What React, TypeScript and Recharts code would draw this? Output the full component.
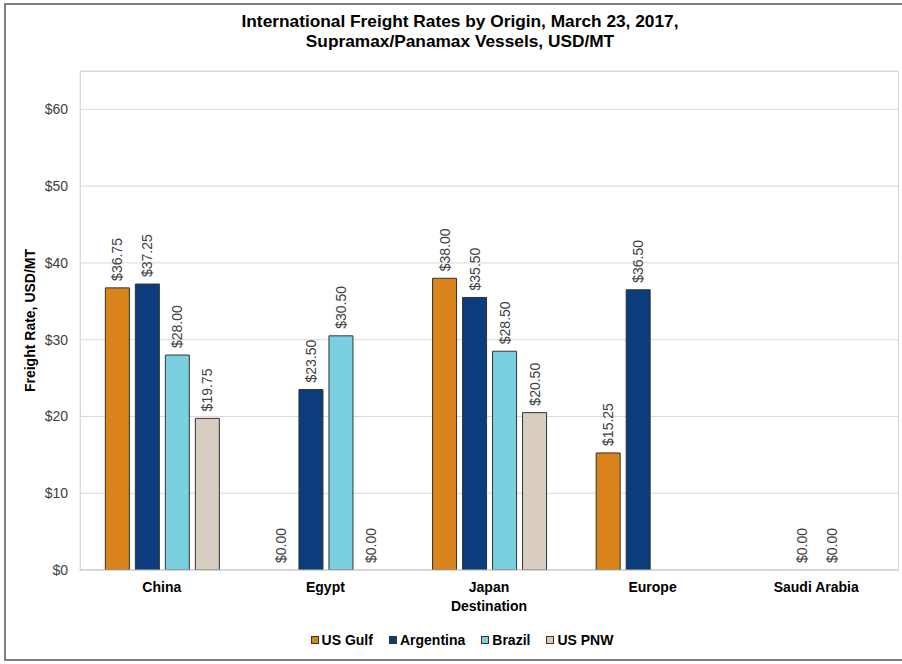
import React from 'react'
import { BarChart, Bar, XAxis, YAxis, CartesianGrid, LabelList, Cell } from 'recharts'

const destinations = ['China', 'Egypt', 'Japan', 'Europe', 'Saudi Arabia']
const usGulf = [36.75, 0, 38.0, 15.25, null]
const argentina = [37.25, 23.5, 35.5, 36.5, 0]
const brazil = [28.0, 30.5, 28.5, null, 0]
const usPnw = [19.75, 0, 20.5, null, null]
const yTicks = [0, 10, 20, 30, 40, 50, 60]

const series = [
  { key: 'usGulf', name: 'US Gulf', color: '#D8841A', values: usGulf },
  { key: 'argentina', name: 'Argentina', color: '#0B3C7C', values: argentina },
  { key: 'brazil', name: 'Brazil', color: '#7ACFE0', values: brazil },
  { key: 'usPnw', name: 'US PNW', color: '#D7CDC0', values: usPnw },
]

const data = destinations.map((d, i) => ({
  name: d,
  usGulf: usGulf[i],
  argentina: argentina[i],
  brazil: brazil[i],
  usPnw: usPnw[i],
}))

const FONT = '"Liberation Sans", Arial, sans-serif'

const ValueLabel = (props: any) => {
  const { x, y, width, value } = props
  if (value === null || value === undefined) return null
  const cx = x + width / 2
  const cy = y - 7
  return (
    <text
      x={cx}
      y={cy}
      transform={`rotate(-90 ${cx} ${cy})`}
      textAnchor="start"
      dominantBaseline="central"
      fontSize={14}
      fontFamily={FONT}
      fill="#404040"
    >
      {`$${Number(value).toFixed(2)}`}
    </text>
  )
}

const XTick = (props: any) => {
  const { x, y, payload } = props
  return (
    <text x={x} y={y + 14} textAnchor="middle" fontSize={14} fontWeight="bold" fontFamily={FONT} fill="#000">
      {payload.value}
    </text>
  )
}

// zero values still need a (flat) rect so their "$0.00" label gets drawn
const zeroSize = (value: any) => (value === 0 ? 0.01 : 0)

export default function App() {
  return (
    <div style={{ position: 'relative', width: 902, height: 664, overflow: 'hidden', background: '#fff' }}>
      <style>{'body{margin:0}'}</style>
      <div
        style={{
          position: 'absolute', left: 4, top: 3, width: 940, height: 658,
          border: '2px solid #7f7f7f', boxSizing: 'border-box',
        }}
      />
      <div
        style={{
          position: 'absolute', left: 0, width: 920, top: 11, textAlign: 'center',
          fontFamily: FONT, fontWeight: 'bold', fontSize: 17.3, lineHeight: '20px', color: '#000',
        }}
      >
        International Freight Rates by Origin, March 23, 2017,
        <br />
        Supramax/Panamax Vessels, USD/MT
      </div>
      <div style={{ position: 'absolute', left: 0, top: 0 }}>
        <BarChart
          width={902}
          height={664}
          data={data}
          margin={{ top: 71, right: 4, bottom: 64, left: 20 }}
          barCategoryGap="15.5%"
          barGap={6}
        >
          <CartesianGrid vertical={false} stroke="#d9d9d9" />
          <XAxis
            dataKey="name"
            height={30}
            tickLine={false}
            axisLine={{ stroke: '#bfbfbf' }}
            tick={<XTick />}
            interval={0}
            label={{
              value: 'Destination', position: 'insideBottom', offset: -11,
              style: { fontSize: 14, fontWeight: 'bold', fontFamily: FONT, fill: '#000' },
            }}
          />
          <YAxis
            width={60}
            domain={[0, 65]}
            ticks={yTicks}
            tickLine={false}
            axisLine={{ stroke: '#d9d9d9' }}
            tickMargin={6}
            tickFormatter={(v: number) => `$${v}`}
            tick={{ fontSize: 14, fontFamily: FONT, fill: '#404040' }}
            label={{
              value: 'Freight Rate, USD/MT', angle: -90, position: 'insideLeft', offset: 10,
              style: { textAnchor: 'middle', fontSize: 14, fontWeight: 'bold', fontFamily: FONT, fill: '#000' },
            }}
          />
          {series.map((s) => (
            <Bar
              key={s.key}
              dataKey={s.key}
              name={s.name}
              fill={s.color}
              stroke="#333"
              strokeWidth={1}
              minPointSize={zeroSize}
              isAnimationActive={false}
            >
              {s.values.map((v, i) => (
                <Cell key={i} stroke={v === 0 ? 'none' : '#333'} />
              ))}
              <LabelList dataKey={s.key} content={<ValueLabel />} />
            </Bar>
          ))}
        </BarChart>
      </div>
      <div
        style={{
          position: 'absolute', left: 80, top: 71, width: 819, height: 500,
          border: '1px solid #d9d9d9', boxSizing: 'border-box', pointerEvents: 'none',
        }}
      />
      <div
        style={{
          position: 'absolute', left: 0, width: 924, top: 632, display: 'flex', justifyContent: 'center',
          fontFamily: FONT, fontWeight: 'bold', fontSize: 14, color: '#000',
        }}
      >
        {series.map((s) => (
          <div key={s.key} style={{ display: 'flex', alignItems: 'center', margin: '0 8px' }}>
            <span
              style={{
                display: 'inline-block', width: 6, height: 6, background: s.color,
                border: '1px solid #333', marginRight: 3,
              }}
            />
            <span>{s.name}</span>
          </div>
        ))}
      </div>
    </div>
  )
}
